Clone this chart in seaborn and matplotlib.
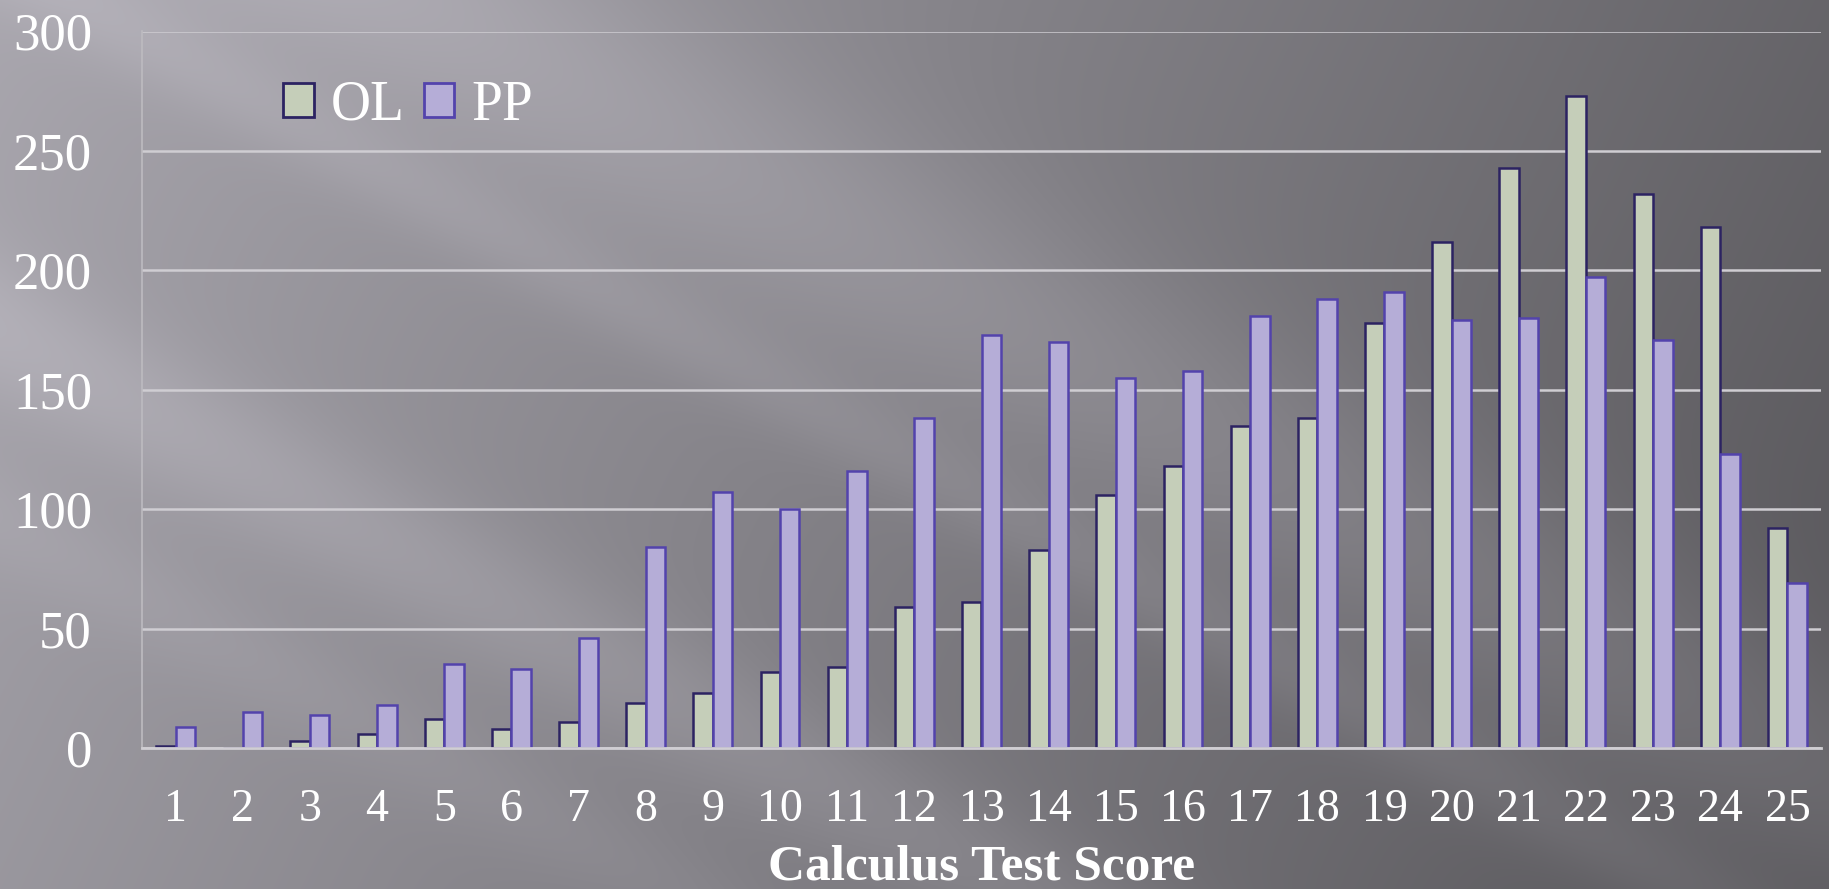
import numpy as np
import pandas as pd
import matplotlib
matplotlib.use("Agg")
import matplotlib.pyplot as plt
import seaborn as sns

# data
scores = list(range(1, 26))
ol_counts = [1, 0, 3, 6, 12, 8, 11, 19, 23, 32, 34, 59, 61, 83, 106, 118, 135, 138,
             178, 212, 243, 273, 232, 218, 92]
pp_counts = [9, 15, 14, 18, 35, 33, 46, 84, 107, 100, 116, 138, 173, 170, 155, 158, 181, 188,
             191, 179, 180, 197, 171, 123, 69]
groups = ["OL", "PP"]

df = pd.DataFrame({
    "score": scores * 2,
    "count": ol_counts + pp_counts,
    "group": ["OL"] * len(scores) + ["PP"] * len(scores),
})

sns.set_theme(style="white")
plt.rcParams["font.family"] = ["Liberation Serif", "DejaVu Serif"]

W, H = 1829, 889
fig = plt.figure(figsize=(W / 100, H / 100), dpi=100)

# grey slide background with diagonal light streaks
yy, xx = np.mgrid[0:H, 0:W].astype(float)
base = 0.66 - 0.26 * (xx / W) - 0.06 * (yy / H)
s = yy - 0.55 * xx
band = 0.07 * np.exp(-((s + 230) / 140) ** 2) + 0.06 * np.exp(-((s - 330) / 80) ** 2)
band += 0.04 * np.exp(-((s + 40) / 50) ** 2) + 0.03 * np.exp(-((s - 520) / 60) ** 2)
val = np.clip(base + band, 0, 1)
img = np.dstack([val * 1.0, val * 0.985, val * 1.03])
img = np.clip(img, 0, 1)
bg = fig.add_axes([0, 0, 1, 1], zorder=0)
bg.imshow(img, aspect="auto", extent=[0, 1, 0, 1])
bg.axis("off")

ax = fig.add_axes([142 / W, 1 - 748 / H, (1821 - 142) / W, (748 - 31.5) / H], zorder=1)
ax.patch.set_alpha(0)

sns.barplot(data=df, x="score", y="count", hue="group", hue_order=groups,
            palette={"OL": "#c5d1b6", "PP": "#b0a6de"}, width=0.58,
            linewidth=1.8, ax=ax, legend=True)

edge_cols = ["#2c2362", "#5343ac"]
for cont, ec in zip(ax.containers, edge_cols):
    for bar in cont:
        bar.set_edgecolor(ec)

ax.set_ylim(0, 300)
ax.set_xlim(-0.5, 24.5)
ax.set_yticks([0, 50, 100, 150, 200, 250, 300])
ax.yaxis.grid(True, color="#cfcdd2", linewidth=1.8)
ax.set_axisbelow(True)
for side in ["top", "right"]:
    ax.spines[side].set_visible(False)
ax.spines["left"].set_color("#bdbbc0")
ax.spines["left"].set_linewidth(1.2)
ax.spines["bottom"].set_color("#d0ced3")
ax.spines["bottom"].set_linewidth(2)

ax.tick_params(axis="y", length=0, pad=36, labelsize=38, labelcolor="white")
ax.tick_params(axis="x", length=0, pad=29, labelsize=33, labelcolor="white")
ax.set_ylabel("")
ax.set_xlabel("Calculus Test Score", fontsize=37, fontweight="bold", color="white", labelpad=10)

leg = ax.legend(loc="upper left", bbox_to_anchor=(0.084, 0.933), ncol=2, frameon=False,
                fontsize=40, handlelength=0.55, handleheight=0.55, handletextpad=0.3,
                columnspacing=0.35, borderaxespad=0, borderpad=0)
for t in leg.get_texts():
    t.set_color("white")
for h, ec in zip(leg.legend_handles, edge_cols):
    h.set_edgecolor(ec)
    h.set_linewidth(2)

fig.savefig("out.png", dpi=100)
